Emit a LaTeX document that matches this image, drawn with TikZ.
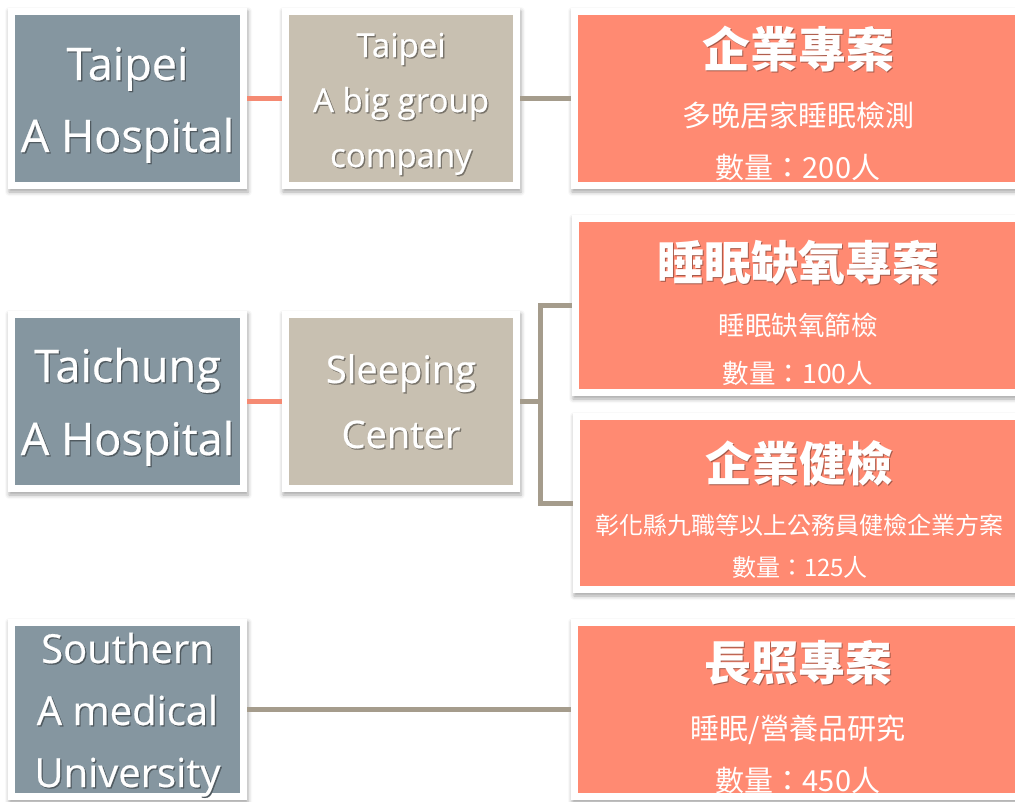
\documentclass[tikz,border=0pt]{standalone}
\usepackage{fontspec}
\setmainfont{Open Sans}[FakeBold=0.5]
\newfontfamily\cjk{Noto Sans CJK TC}
\usetikzlibrary{shadows.blur}
\definecolor{gbox}{HTML}{8596A0}
\definecolor{bbox}{HTML}{C8C0B1}
\definecolor{sbox}{HTML}{FF8A72}
\definecolor{oline}{HTML}{F58A73}
\definecolor{tline}{HTML}{A59C8C}
\colorlet{gsh}{gbox!60!black}
\colorlet{bsh}{bbox!60!black}
\colorlet{ssh}{sbox!65!black}
\newcommand\tsh[2]{\leavevmode\rlap{\kern1.3pt\raisebox{-1.3pt}{\textcolor{#1}{#2}}}#2}
\begin{document}
\begin{tikzpicture}[x=1pt,y=-1pt,
  frame/.style={rectangle, fill=white, draw=none, inner sep=0pt,
    blur shadow={shadow xshift=1pt, shadow yshift=-3pt, shadow blur radius=4pt, shadow opacity=35},
    path picture={\fill[#1] ([xshift=7pt,yshift=-7pt]path picture bounding box.north west) rectangle ([xshift=-7pt,yshift=7pt]path picture bounding box.south east);}},
  en/.style={anchor=base, text=white, inner sep=0pt, font=\fontsize{#1}{#1}\selectfont},
  ttl/.style={anchor=base, text=white, inner sep=0pt, font={\cjk\fontsize{#1}{#1}\selectfont\bfseries}},
  sub/.style={anchor=base, text=white, inner sep=0pt, font={\cjk\fontsize{#1}{#1}\selectfont}},
  oconn/.style={draw=oline, line width=5pt},
  tconn/.style={draw=tline, line width=5pt}]
\useasboundingbox (0,0) rectangle (1015,801);

% boxes
\node[frame=gbox, minimum width=239pt, minimum height=181pt] (g1) at (127.5,98.5) {};
\node[frame=bbox, minimum width=238pt, minimum height=181pt] (b1) at (401,98.5) {};
\node[frame=sbox, minimum width=454pt, minimum height=181pt] (s1) at (798,98.5) {};

\node[frame=gbox, minimum width=239pt, minimum height=181pt] (g2) at (127.5,401.5) {};
\node[frame=bbox, minimum width=238pt, minimum height=181pt] (b2) at (401,401.5) {};
\node[frame=sbox, minimum width=454pt, minimum height=181pt] (s2a) at (799,305.5) {};
\node[frame=sbox, minimum width=454pt, minimum height=180pt] (s2b) at (800,503) {};

\node[frame=gbox, minimum width=239pt, minimum height=181pt] (g3) at (127.5,709.5) {};
\node[frame=sbox, minimum width=454pt, minimum height=181pt] (s3) at (798,709.5) {};

% connectors
\draw[oconn] (g1.east) -- (b1.west);
\draw[tconn] (b1.east) -- (s1.west);
\draw[oconn] (g2.east) -- (b2.west);
\draw[tconn] (b2.east) -- ++(20,0) |- (s2a.west);
\draw[tconn] (b2.east) -- ++(20,0) |- (s2b.west);
\draw[tconn] (g3.east) -- (s3.west);

% row 1 texts
\node[en=45] (g1a) at (127.5,80) {\tsh{gsh}{Taipei}};
\node[en=45] (g1b) at (127.5,152) {\tsh{gsh}{A Hospital}};
\node[en=33] (b1a) at (401,57) {\tsh{bsh}{Taipei}};
\node[en=33] (b1b) at (401,112) {\tsh{bsh}{A big group}};
\node[en=33] (b1c) at (401,167) {\tsh{bsh}{company}};
\node[ttl=48] (s1a) at (798,67) {\tsh{ssh}{企業專案}};
\node[sub=29] (s1b) at (798,126) {多晚居家睡眠檢測};
\node[sub=29] (s1c) at (798,178) {數量：200人};

% row 2 texts
\node[en=45] (g2a) at (127.5,382) {\tsh{gsh}{Taichung}};
\node[en=45] (g2b) at (127.5,455) {\tsh{gsh}{A Hospital}};
\node[en=38] (b2a) at (401,383) {\tsh{bsh}{Sleeping}};
\node[en=38] (b2b) at (401,448) {\tsh{bsh}{Center}};
\node[ttl=47] (s2aa) at (798.5,280) {\tsh{ssh}{睡眠缺氧專案}};
\node[sub=26.5] (s2ab) at (798,335) {睡眠缺氧篩檢};
\node[sub=26.5] (s2ac) at (798,383) {數量：100人};
\node[ttl=47] (s2ba) at (799,481) {\tsh{ssh}{企業健檢}};
\node[sub=24] (s2bb) at (799.5,534) {彰化縣九職等以上公務員健檢企業方案};
\node[sub=24] (s2bc) at (800,576) {數量：125人};

% row 3 texts
\node[en=40] (g3a) at (127.5,663) {\tsh{gsh}{Southern}};
\node[en=40] (g3b) at (127.5,725) {\tsh{gsh}{A medical}};
\node[en=40] (g3c) at (127.5,787) {\tsh{gsh}{University}};
\node[ttl=47] (s3a) at (798,680) {\tsh{ssh}{長照專案}};
\node[sub=29] (s3b) at (798,739) {睡眠/營養品研究};
\node[sub=29] (s3c) at (798,791) {數量：450人};
\end{tikzpicture}
\end{document}
